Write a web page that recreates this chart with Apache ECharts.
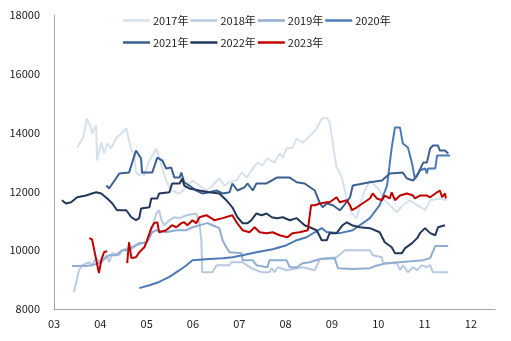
<!DOCTYPE html>
<html>
<head>
<meta charset="utf-8">
<script src="https://cdn.jsdelivr.net/npm/echarts@6/dist/echarts.min.js"></script>
<style>
html,body{margin:0;padding:0;background:#fff;}
#chart{width:511px;height:341px;}
</style>
</head>
<body>
<div id="chart"></div>
<script>
// X positions are in months (3 = March ... 12 = December), values are prices.
var xTicks = ['03','04','05','06','07','08','09','10','11','12'];
var yTicks = [8000, 10000, 12000, 14000, 16000, 18000];
var seriesNames = ['2017年','2018年','2019年','2020年','2021年','2022年','2023年'];

var x2017 = [3.50,3.63,3.71,3.80,3.82,3.91,3.93,4.02,4.08,4.15,4.23,4.34,4.56,4.58,4.67,4.73,4.77,4.84,4.90,4.95,5.06,5.21,5.32,5.42,5.53,5.71,5.86,5.99,6.14,6.29,6.42,6.57,6.68,6.79,6.94,7.05,7.16,7.26,7.39,7.50,7.61,7.76,7.87,7.94,8.02,8.15,8.24,8.37,8.48,8.58,8.67,8.78,8.89,8.95,9.02,9.10,9.17,9.23,9.32,9.43,9.54,9.60,9.71,9.82,9.93,10.03,10.14,10.25,10.40,10.53,10.68,10.84,11.01,11.12,11.33,11.48];
var y2017 = [13490,13830,14470,14170,13970,14240,13050,13660,13290,13630,13460,13800,14140,14170,13390,13290,12640,12540,12640,12540,13050,13460,12880,12370,12030,11930,12140,12370,12200,12030,12200,12440,12200,12310,12370,12640,12470,12710,12980,12880,13120,12980,13290,13150,13460,13490,13800,13660,13830,13970,14140,14470,14510,14340,13630,12810,12640,12370,11760,11250,11090,11530,12030,12370,12200,12030,11700,11530,11290,11530,11700,11530,11360,11700,11760,11700];

var x2018 = [3.43,3.54,3.61,3.76,3.82,3.91,4.02,4.13,4.19,4.26,4.41,4.47,4.77,4.99,5.12,5.21,5.27,5.32,5.38,5.49,5.60,5.71,5.86,6.07,6.14,6.18,6.20,6.42,6.51,6.79,6.83,7.07,7.16,7.26,7.48,7.65,7.70,7.76,7.83,8.02,8.37,8.63,8.74,9.10,9.28,9.82,9.88,10.08,10.10,10.40,10.47,10.53,10.64,10.75,10.84,10.94,11.05,11.12,11.18,11.51];
var y2018 = [8580,9320,9490,9590,9490,9730,9560,9830,9590,9900,9830,10000,10170,10270,10780,11250,11360,11020,10850,11020,11120,11090,11190,11250,10920,10340,9250,9250,9490,9490,9590,9590,9490,9390,9250,9250,9390,9250,9420,9320,9420,9320,9700,9760,10000,10000,9830,9760,9560,9560,9320,9490,9250,9420,9320,9490,9420,9490,9250,9250];

var x2019 = [3.39,3.69,3.82,3.97,4.19,4.34,4.47,4.62,4.84,5.01,5.12,5.21,5.42,5.64,5.86,5.99,6.14,6.31,6.42,6.57,6.64,6.72,6.79,7.05,7.07,7.29,7.37,7.61,7.65,8.02,8.09,8.24,8.37,8.52,8.74,9.06,9.13,9.45,9.82,9.93,10.19,10.97,11.12,11.23,11.51];
var y2019 = [9460,9460,9490,9560,9830,9830,10000,10000,10240,10270,10610,10680,10610,10680,10680,10780,10850,10920,10850,10750,10340,10100,9930,9900,9660,9660,9490,9420,9660,9660,9420,9420,9560,9590,9700,9730,9390,9360,9390,9460,9560,9660,9730,10140,10140];

var x2020 = [4.84,5.06,5.27,5.49,5.71,5.86,5.99,6.35,6.64,6.85,7.07,7.37,7.72,8.02,8.24,8.45,8.63,8.78,8.89,8.95,9.17,9.45,9.60,9.82,10.03,10.19,10.29,10.36,10.47,10.53,10.64,10.73,10.79,10.90,11.01,11.05,11.07,11.23,11.27,11.55];
var y2020 = [8710,8810,8920,9090,9320,9490,9660,9700,9730,9760,9830,9930,10030,10170,10340,10440,10610,10750,10610,10610,10580,10680,10850,11090,11530,12200,13490,14170,14170,13630,13490,12950,12440,12710,12780,12610,12780,12780,13220,13220];

var x2021 = [4.13,4.19,4.41,4.62,4.77,4.88,4.90,5.12,5.23,5.34,5.42,5.53,5.60,5.71,5.75,5.81,5.92,6.07,6.20,6.35,6.51,6.64,6.79,6.85,6.96,7.11,7.18,7.29,7.37,7.59,7.81,8.09,8.24,8.41,8.63,8.74,8.80,8.89,9.02,9.17,9.23,9.39,9.45,9.82,10.08,10.25,10.53,10.62,10.75,10.84,10.97,11.05,11.12,11.18,11.29,11.33,11.44,11.51];
var y2021 = [12200,12100,12610,12640,13390,13120,12640,12640,13150,13050,12780,12810,12470,12470,12640,12310,12200,12030,11930,11970,12030,11930,11970,12270,12030,12140,12270,12030,12270,12270,12470,12470,12310,12270,12030,11590,11460,11590,11530,11360,11460,11800,12200,12310,12370,12610,12640,12440,12370,12540,12980,12980,13460,13560,13560,13390,13390,13290];

var x2022 = [3.17,3.26,3.37,3.50,3.69,3.82,3.91,4.02,4.15,4.26,4.36,4.56,4.67,4.77,4.84,4.88,5.06,5.10,5.23,5.27,5.49,5.55,5.71,5.77,5.81,5.92,6.14,6.35,6.57,6.72,6.85,6.96,7.07,7.18,7.26,7.37,7.48,7.59,7.70,7.81,7.94,8.09,8.24,8.41,8.52,8.67,8.78,8.89,8.95,9.10,9.23,9.32,9.43,9.60,9.82,10.03,10.14,10.29,10.36,10.51,10.58,10.73,10.84,10.90,11.01,11.12,11.23,11.29,11.44];
var y2022 = [11700,11590,11630,11800,11860,11930,11970,11930,11760,11590,11360,11360,11120,11020,11090,11420,11460,11760,11760,11930,11970,12270,12270,12440,12200,12100,12030,11970,11930,11700,11460,11120,10920,10920,11020,11250,11190,11250,11120,11090,11120,11020,11090,10850,10780,10680,10340,10340,10580,10580,10850,10950,10850,10780,10750,10610,10270,10100,9900,9900,10070,10240,10410,10580,10750,10580,10510,10780,10850];

var x2023 = [3.76,3.82,3.87,3.97,4.02,4.08,4.15,4.36,4.58,4.62,4.67,4.77,4.84,4.95,5.01,5.10,5.16,5.23,5.27,5.42,5.55,5.64,5.75,5.81,5.88,5.99,6.07,6.14,6.29,6.46,6.64,6.85,6.94,7.07,7.22,7.33,7.44,7.59,7.72,7.87,8.04,8.15,8.30,8.48,8.55,8.63,8.74,8.89,8.95,9.10,9.17,9.32,9.39,9.43,9.54,9.82,9.88,9.97,10.08,10.14,10.25,10.29,10.36,10.47,10.62,10.75,10.79,10.90,11.05,11.12,11.27,11.33,11.38,11.44,11.46];
var y2023 = [10410,10370,10000,9220,9660,9930,9970,null,9560,10270,9730,9760,9930,10100,10340,10750,10920,10950,10610,10680,10850,10780,10920,10950,10850,11020,10920,11120,11190,11020,11090,11190,10950,10680,10610,10780,10610,10580,10610,10510,10440,10580,10610,10680,11530,11530,11590,11630,11630,11800,11630,11700,11530,11360,11460,11760,11930,11760,11700,11860,11760,11970,11700,11860,11930,11860,11760,11860,11860,11800,11970,12030,11800,11930,11760];

var colors = ['#D6E1EE','#B7CAE0','#8FADD2','#4C7AB4','#3A6191','#22375A','#C00000'];
var xs = [x2017,x2018,x2019,x2020,x2021,x2022,x2023];
var ys = [y2017,y2018,y2019,y2020,y2021,y2022,y2023];

function pairs(xa, ya){
  return xa.map(function(x,i){ return [x, ya[i] === null ? '-' : ya[i]]; });
}

var FONT = '"Noto Sans CJK SC", "Noto Sans", sans-serif';
var series = seriesNames.map(function(n,i){
  return {
    name: n, type: 'line', data: pairs(xs[i], ys[i]),
    symbol: 'none', showSymbol: false, connectNulls: false, animation: false,
    lineStyle: {color: colors[i], width: 2},
    itemStyle: {color: colors[i]},
    z: i + 2
  };
});

var legendBase = {
  icon: 'rect', itemWidth: 27, itemHeight: 2.5, itemGap: 2,
  textStyle: {fontFamily: FONT, fontSize: 11, color: '#222', padding: [0,0,0,-2]}
};
var chart = echarts.init(document.getElementById('chart'), null, {renderer: 'canvas'});
chart.setOption({
  backgroundColor: '#ffffff',
  animation: false,
  grid: {left: 54, right: 16, top: 15, bottom: 32, containLabel: false},
  legend: [
    Object.assign({data: seriesNames.slice(0,4), left: 118, top: 10}, legendBase),
    Object.assign({data: seriesNames.slice(4), left: 118, top: 32}, legendBase)
  ],
  xAxis: {
    type: 'value', min: 3, max: 12.52, interval: 1,
    axisLine: {show: true, lineStyle: {color: '#A6A6A6', width: 1}},
    axisTick: {show: false},
    splitLine: {show: false},
    axisLabel: {
      margin: 9, color: '#222', fontFamily: FONT, fontSize: 11, showMaxLabel: false,
      formatter: function(v){
        var k = Math.round(v);
        if (Math.abs(v - k) > 1e-6) return '';
        return xTicks[k - 3] || '';
      }
    }
  },
  yAxis: {
    type: 'value', min: yTicks[0], max: yTicks[yTicks.length-1], interval: 2000,
    axisLine: {show: true, lineStyle: {color: '#A6A6A6', width: 1}},
    axisTick: {show: false},
    splitLine: {show: false},
    axisLabel: {margin: 14, color: '#222', fontFamily: FONT, fontSize: 11,
      formatter: function(v){ return String(v); }}
  },
  series: series
});
</script>
</body>
</html>
